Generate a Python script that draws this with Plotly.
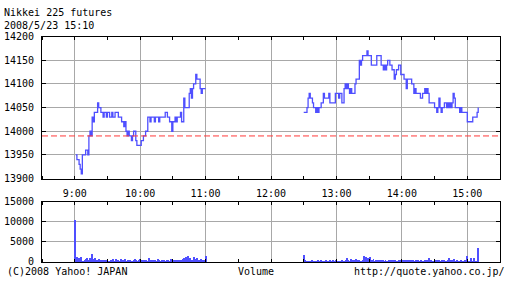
import pandas as pd
import plotly.graph_objects as go

# ---------------- data ----------------
title_text = "Nikkei 225 futures"
date_text = "2008/5/23 15:10"
prev_close = 13990

# morning session, 1-minute prices from 9:01 to 11:00
am_prices = [
    13950, 13940, 13940, 13930, 13920, 13910, 13950, 13950, 13950, 13960,
    13960, 13950, 13990, 14000, 13990, 14030, 14020, 14040, 14040, 14040,
    14060, 14050, 14050, 14040, 14040, 14030, 14040, 14040, 14030, 14040,
    14040, 14030, 14030, 14040, 14030, 14030, 14040, 14040, 14040, 14030,
    14030, 14030, 14020, 14020, 14010, 14020, 14000, 13990, 14000, 13990,
    13990, 13980, 13990, 14000, 14000, 13980, 13970, 13970, 13970, 13970,
    13980, 13980, 13990, 13990, 14000, 14000, 14030, 14030, 14020, 14030,
    14030, 14030, 14020, 14030, 14030, 14030, 14020, 14030, 14030, 14030,
    14030, 14030, 14040, 14040, 14030, 14030, 14020, 14020, 14000, 14020,
    14020, 14030, 14020, 14030, 14030, 14030, 14040, 14020, 14020, 14070,
    14050, 14050, 14050, 14050, 14080, 14090, 14070, 14090, 14100, 14100,
    14120, 14110, 14110, 14110, 14090, 14080, 14090, 14090, 14090, 14090,
]

# afternoon session, 1-minute prices from 12:30 to 15:10
pm_prices = [
    14040, 14040, 14040, 14050, 14070, 14080, 14070, 14070, 14060, 14050,
    14050, 14040, 14050, 14040, 14050, 14050, 14060, 14060, 14080, 14070,
    14070, 14070, 14070, 14080, 14060, 14060, 14060, 14060, 14060, 14080,
    14080, 14080, 14070, 14080, 14080, 14060, 14060, 14090, 14100, 14090,
    14100, 14090, 14080, 14090, 14080, 14080, 14080, 14100, 14110, 14110,
    14110, 14150, 14140, 14150, 14160, 14160, 14160, 14160, 14170, 14160,
    14160, 14160, 14140, 14140, 14140, 14140, 14140, 14160, 14160, 14160,
    14160, 14140, 14140, 14130, 14140, 14130, 14140, 14150, 14150, 14140,
    14140, 14130, 14130, 14110, 14120, 14130, 14130, 14140, 14140, 14120,
    14120, 14120, 14110, 14110, 14090, 14110, 14110, 14110, 14110, 14100,
    14100, 14080, 14090, 14080, 14080, 14080, 14080, 14070, 14070, 14080,
    14080, 14090, 14080, 14090, 14080, 14060, 14060, 14060, 14060, 14060,
    14050, 14050, 14040, 14050, 14070, 14050, 14040, 14050, 14050, 14060,
    14060, 14050, 14060, 14050, 14060, 14050, 14060, 14080, 14070, 14050,
    14050, 14050, 14050, 14040, 14050, 14040, 14040, 14040, 14040, 14040,
    14020, 14020, 14020, 14020, 14020, 14030, 14030, 14030, 14030, 14040,
    14050,
]

# morning volume, 1-minute from 9:00 to 11:00
am_volume = [
    10500,
    800, 1300, 600, 1000, 500, 1400, 300, 200, 600, 900,
    1000, 700, 500, 1100, 800, 2100, 900, 600, 1200, 700,
    500, 800, 400, 700, 600, 300, 700, 500, 400, 600,
    200, 300, 700, 500, 800, 400, 300, 900, 500, 600,
    300, 800, 200, 500, 400, 900, 300, 400, 700, 200,
    500, 400, 300, 600, 800, 500, 400, 300, 600, 900,
    400, 500, 600, 500, 700, 400, 300, 1000, 600, 500,
    400, 700, 300, 500, 400, 800, 500, 400, 300, 600,
    500, 700, 400, 300, 500, 600, 400, 800, 500, 300,
    600, 400, 500, 300, 700, 400, 600, 500, 900, 1200,
    700, 1400, 1000, 1600, 900, 1200, 700, 600, 1300, 800,
    600, 1100, 500, 700, 400, 900, 600, 300, 500, 1700,
]

# afternoon volume, 1-minute from 12:30 to 15:10
pm_volume = [
    1900,
    500, 300, 400, 200, 300, 400, 300, 500, 200, 400,
    300, 200, 600, 400, 300, 500, 200, 400, 300, 600,
    400, 300, 200, 500, 300, 400, 600, 300, 200, 500,
    300, 400, 200, 300, 500, 300, 200, 400, 700, 1000,
    600, 400, 800, 500, 300, 600, 400, 900, 500, 300,
    700, 400, 300, 600, 1700, 500, 1400, 800, 1100, 600,
    1300, 700, 500, 900, 400, 600, 300, 500, 700, 400,
    600, 300, 500, 400, 600, 300, 400, 500, 300, 600,
    400, 500, 300, 600, 400, 300, 500, 400, 600, 300,
    500, 400, 600, 300, 500, 400, 700, 500, 300, 600,
    400, 300, 500, 400, 600, 300, 400, 500, 300, 400,
    600, 500, 400, 500, 1200, 300, 600, 400, 300, 500,
    400, 600, 300, 500, 400, 300, 600, 200, 500, 400,
    300, 500, 1100, 400, 600, 300, 500, 800, 400, 300,
    600, 400, 300, 500, 200, 400, 300, 700, 400, 1600,
    200, 300, 1200, 200, 100, 1200, 200, 100, 300, 3600,
]

hour_ticks = ["2008-05-23 09:00", "2008-05-23 10:00", "2008-05-23 11:00",
              "2008-05-23 12:00", "2008-05-23 13:00", "2008-05-23 14:00",
              "2008-05-23 15:00"]
hour_labels = ["9:00", "10:00", "11:00", "12:00", "13:00", "14:00", "15:00"]
x_range = ["2008-05-23 08:30", "2008-05-23 15:30"]
price_ticks = [13900, 13950, 14000, 14050, 14100, 14150, 14200]
price_labels = ["13900", "13950", "14000", "14050", "14100", "14150", "14200"]
volume_ticks = [0, 5000, 10000, 15000]
volume_labels = ["0", "5000", "10000", "15000"]

# ---------------- times ----------------
am_price_t = pd.date_range("2008-05-23 09:01", periods=len(am_prices), freq="min")
pm_price_t = pd.date_range("2008-05-23 12:30", periods=len(pm_prices), freq="min")
am_vol_t = pd.date_range("2008-05-23 09:00", periods=len(am_volume), freq="min")
pm_vol_t = pd.date_range("2008-05-23 12:30", periods=len(pm_volume), freq="min")

BLUE = "#4f4fff"
GRID = "#a8a8a8"
FONT = dict(family="DejaVu Sans Mono", size=10, color="black")

fig = go.Figure()
for t, p in ((am_price_t, am_prices), (pm_price_t, pm_prices)):
    fig.add_trace(go.Scatter(x=t, y=p, mode="lines", line=dict(color=BLUE, width=1.3, shape="hv"),
                             xaxis="x", yaxis="y", showlegend=False, hoverinfo="skip"))
for t, v in ((am_vol_t, am_volume), (pm_vol_t, pm_volume)):
    fig.add_trace(go.Bar(x=t, y=v, width=55000, marker=dict(color=BLUE, line=dict(width=0)),
                         xaxis="x2", yaxis="y2", showlegend=False, hoverinfo="skip"))

W, H = 512, 288
xdom = [42 / W, 500 / W]
minor = dict(dtick=30 * 60 * 1000, tick0="2008-05-23 08:30", ticks="inside", ticklen=3,
             tickcolor="black", showgrid=False)
common_x = dict(type="date", range=x_range, domain=xdom, showgrid=True, gridcolor=GRID, gridwidth=1,
                tickvals=hour_ticks, ticktext=hour_labels, ticks="", showline=True, linecolor="black",
                linewidth=1, mirror="allticks", tickfont=FONT, minor=minor, zeroline=False,
                ticklabelstandoff=5)
common_y = dict(showgrid=True, gridcolor=GRID, gridwidth=1, ticks="inside", ticklen=4, tickcolor="black",
                showline=True, linecolor="black", linewidth=1, mirror="allticks", tickfont=FONT,
                zeroline=False, ticklabelstandoff=5)

fig.update_layout(
    width=W, height=H, margin=dict(l=0, r=0, t=0, b=0),
    paper_bgcolor="white", plot_bgcolor="white", bargap=0,
    xaxis=dict(common_x, anchor="y"),
    xaxis2=dict(common_x, anchor="y2", showticklabels=False),
    yaxis=dict(common_y, domain=[1 - 180 / H, 1 - 32 / H], range=[13900, 14200],
               tickvals=price_ticks, ticktext=price_labels),
    yaxis2=dict(common_y, domain=[1 - 267 / H, 1 - 204 / H], range=[0, 15000],
                tickvals=volume_ticks, ticktext=volume_labels),
    font=FONT,
)

fig.add_shape(type="line", xref="x domain", yref="y", x0=0, x1=1, y0=prev_close, y1=prev_close,
              line=dict(color="#ff3a3a", width=1, dash="6px,3px"))

def note(text, x, y, xanchor, align="left"):
    fig.add_annotation(text=text, x=x / W, y=1 - y / H, xref="paper", yref="paper", showarrow=False,
                       xanchor=xanchor, yanchor="middle", align=align, font=FONT, borderpad=0)

note(title_text + "<br>" + date_text, 3, 14, "left")
note("(C)2008 Yahoo! JAPAN", 6, 277, "left")
note("Volume", 256, 277, "center", "center")
note("http://quote.yahoo.co.jp/", 506, 277, "right", "right")

fig.write_html("out.html")
